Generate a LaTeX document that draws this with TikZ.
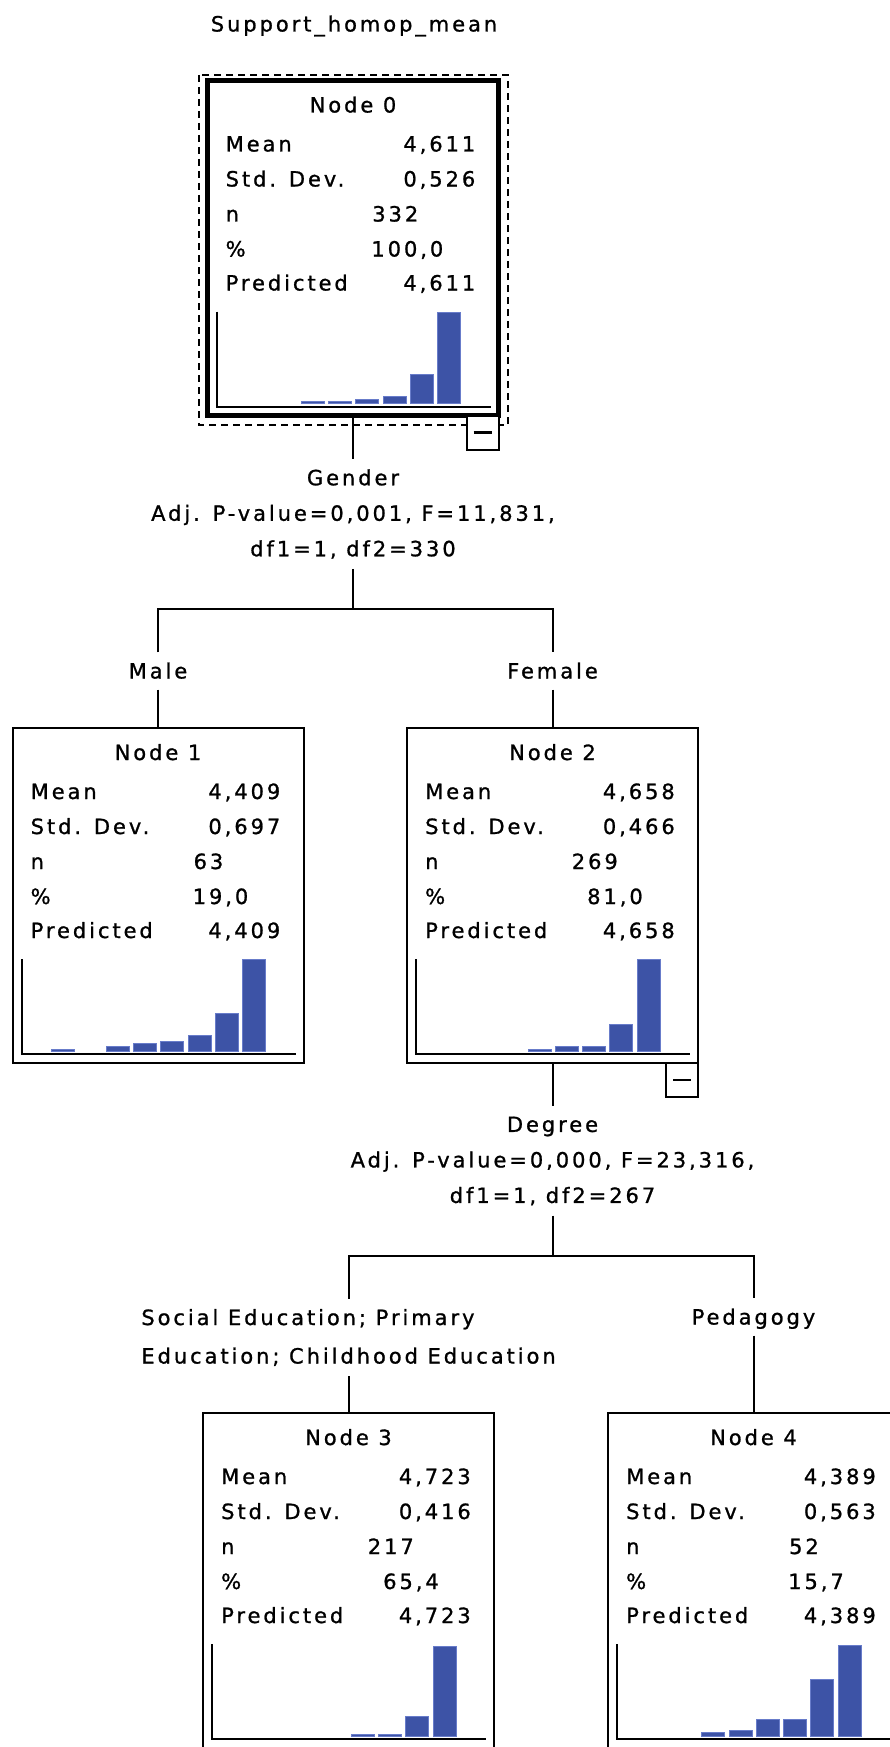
\documentclass[tikz,border=0pt]{standalone}
\usepackage{fontspec}
\setmainfont{DejaVu Sans}[LetterSpace=14, FakeBold=1]
\usepackage{tikz}

\definecolor{barblue}{RGB}{61,83,166}
\definecolor{baredge}{RGB}{104,124,202}

\newcommand{\statnode}[9]{%
	\node[treebox] (#1) at (#2) {};
	\begin{scope}[shift={(#1.north west)}]
		\node[txt, anchor=base] (#1-t) at (145.5,32) {Node #3};
		\node[txt, anchor=base west] (#1-ml) at (18,71) {Mean};
		\node[txt, anchor=base east] (#1-mv) at (268,71) {#4};
		\node[txt, anchor=base west] (#1-sl) at (18,106) {Std. Dev.};
		\node[txt, anchor=base east] (#1-sv) at (268,106) {#5};
		\node[txt, anchor=base west] (#1-nl) at (18,141) {n};
		\node[txt, anchor=base east] (#1-nv) at (211,141) {#6};
		\node[txt, anchor=base west] (#1-pl) at (18,176) {\%};
		\node[txt, anchor=base east] (#1-pv) at (236,176) {#7};
		\node[txt, anchor=base west] (#1-rl) at (18,210) {Predicted};
		\node[txt, anchor=base east] (#1-rv) at (268,210) {#8};
		\draw[axis] (9,231) -- (9,326) -- (283,326);
		\foreach \k/\h in {#9}
			\draw[bar] (39+27.3*\k,323) rectangle ++(23,-\h);
	\end{scope}
}

\begin{document}
\begin{tikzpicture}[x=1pt, y=-1pt,
	font=\fontsize{21}{35.5}\selectfont,
	treebox/.style = {draw, line width=2pt, minimum width=291pt, minimum height=335pt, inner sep=0pt, outer sep=0pt},
	txt/.style = {inner sep=0pt},
	axis/.style = {line width=2pt},
	bar/.style = {fill=barblue, draw=baredge, line width=0.8pt},
	conn/.style = {line width=2pt},
	dashbox/.style = {line width=2pt, dash pattern=on 7pt off 5pt},
	minusbox/.style = {draw, fill=white, line width=2pt, minimum width=32pt, minimum height=34pt, inner sep=0pt, outer sep=0pt},
	brlbl/.style = {text height=15pt, text depth=0pt, inner xsep=2pt, inner ysep=11pt},
	splitlbl/.style = {align=center, inner ysep=10pt}
	]
	\useasboundingbox (0,0) rectangle (890,1747);
	\fill[white] (0,0) rectangle (890,1747);
	\clip (0,0) rectangle (890,1747);

	\node[txt, anchor=base] (ttl) at (354,31.5) {Support\_homop\_mean};

	\statnode{n0}{353,248}{0}{4,611}{0,526}{332}{100,0}{4,611}{2/2, 3/2, 4/4.3, 5/7, 6/29, 7/91}
	\draw[line width=4.5pt] (n0.north west) rectangle (n0.south east);
	\draw[dashbox] (199,75) rectangle (508,425);
	\node[minusbox, anchor=north east] (m0) at (n0.south east) {\rule{18pt}{2.5pt}};

	\node[splitlbl] (s0) at (353,514) {Gender\\Adj. P-value=0,001, F=11,831,\\df1=1, df2=330};
	\coordinate (f0) at (353,609);
	\node[brlbl] (lm) at (158,671) {Male};
	\node[brlbl] (lf) at (552.5,671) {Female};

	\statnode{n1}{158,895.5}{1}{4,409}{0,697}{63}{19,0}{4,409}{0/2, 2/5, 3/7.7, 4/10, 5/16, 6/38, 7/92}
	\statnode{n2}{552.5,895.5}{2}{4,658}{0,466}{269}{81,0}{4,658}{3/2, 4/5, 5/5, 6/27, 7/92}
	\node[minusbox, anchor=north east] (m2) at (n2.south east) {\rule{18pt}{2.5pt}};

	\node[splitlbl] (s1) at (552.5,1161) {Degree\\Adj. P-value=0,000, F=23,316,\\df1=1, df2=267};
	\coordinate (f1) at (552.5,1256);
	\node[align=left, inner ysep=10pt, font=\fontsize{21}{38.5}\selectfont] (ls) at (348.5,1337.5) {Social Education; Primary\\Education; Childhood Education};
	\node[brlbl] (lp) at (753.5,1317) {Pedagogy};

	\statnode{n3}{348.5,1580.5}{3}{4,723}{0,416}{217}{65,4}{4,723}{4/2, 5/2, 6/20, 7/90}
	\statnode{n4}{753.5,1580.5}{4}{4,389}{0,563}{52}{15,7}{4,389}{2/4, 3/6, 4/17, 5/17, 6/57, 7/91}

	\draw[conn] (n0) -- (s0);
	\draw[conn] (s0) -- (f0);
	\draw[conn] (lm) |- (f0) -| (lf);
	\draw[conn] (lm) -- (n1);
	\draw[conn] (lf) -- (n2);
	\draw[conn] (n2) -- (s1);
	\draw[conn] (s1) -- (f1);
	\draw[conn] (ls) |- (f1) -| (lp);
	\draw[conn] (ls) -- (n3);
	\draw[conn] (lp) -- (n4);

\end{tikzpicture}
\end{document}
